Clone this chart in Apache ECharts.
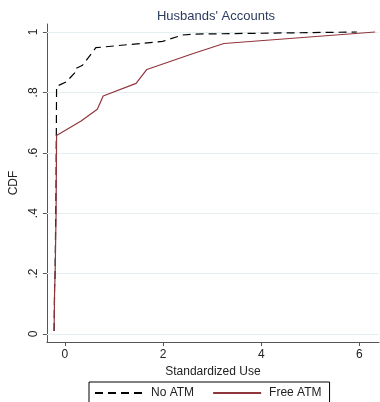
<!DOCTYPE html>
<html>
<head>
<meta charset="utf-8">
<script src="https://cdn.jsdelivr.net/npm/echarts@6/dist/echarts.min.js"></script>
<style>
  html, body { margin: 0; padding: 0; background: #fff; }
  #chart { width: 380px; height: 402px; }
</style>
</head>
<body>
<div id="chart"></div>
<script>
// CDF points
const noAtmX = [-0.22, -0.21, -0.2, -0.18, -0.17, 0.03, 0.23, 0.23, 0.36, 0.63, 1.99, 2.4, 2.6, 5.95]
const noAtmY = [0.01, 0.16, 0.2, 0.5, 0.82, 0.835, 0.87, 0.88, 0.89, 0.948, 0.969, 0.99, 0.993, 1.0]
const freeAtmX = [-0.22, -0.21, -0.2, -0.18, -0.17, 0.33, 0.66, 0.78, 1.45, 1.67, 2.6, 3.24, 6.32]
const freeAtmY = [0.01, 0.15, 0.19, 0.4, 0.657, 0.705, 0.744, 0.788, 0.83, 0.876, 0.928, 0.962, 1.0]
const xTicks = [0, 2, 4, 6]
const yTicks = [0, 0.2, 0.4, 0.6, 0.8, 1]

const pairs = (xs, ys) => xs.map((x, i) => [x, ys[i]])
const font = 'Liberation Sans, Arial, sans-serif'
const axisGrey = '#555'

const chart = echarts.init(document.getElementById('chart'))
chart.setOption({
  animation: false,
  title: {
    text: "Husbands' Accounts",
    left: 211, top: 5, textAlign: 'center',
    textStyle: { fontFamily: font, fontSize: 13, fontWeight: 'normal', color: '#2b3a5e' }
  },
  grid: { left: 42, right: 1, top: 24, bottom: 60 },
  xAxis: {
    type: 'value',
    min: -0.367, max: 6.40,
    name: 'Standardized Use',
    nameLocation: 'middle',
    nameGap: 20,
    nameTextStyle: { fontFamily: font, fontSize: 12, color: '#222' },
    axisLine: { onZero: false, lineStyle: { color: axisGrey, width: 1 } },
    axisTick: { length: 4, customValues: xTicks, lineStyle: { color: axisGrey } },
    axisLabel: { customValues: xTicks, margin: 7, fontFamily: font, fontSize: 12, color: '#222' },
    splitLine: { show: false }
  },
  yAxis: {
    type: 'value',
    min: -0.0265, max: 1.0265,
    name: 'CDF',
    nameLocation: 'middle',
    nameGap: 24,
    nameTextStyle: { fontFamily: font, fontSize: 12, color: '#222' },
    axisLine: { show: true, onZero: false, lineStyle: { color: axisGrey, width: 1 } },
    axisTick: { show: true, length: 4, customValues: yTicks, lineStyle: { color: axisGrey } },
    axisLabel: {
      customValues: yTicks, rotate: 90, margin: 7,
      fontFamily: font, fontSize: 12, color: '#222',
      formatter: v => (v === 0 ? '0' : v === 1 ? '1' : String(v).replace('0.', '.'))
    },
    splitLine: { show: false }
  },
  legend: {
    left: 89, top: 382,
    width: 236,
    padding: [5, 8, 5, 5],
    itemWidth: 48, itemHeight: 12, itemGap: 18,
    borderColor: '#000', borderWidth: 1,
    itemStyle: { opacity: 0 },
    textStyle: { fontFamily: font, fontSize: 12, color: '#222', padding: [0, 0, 0, 3] },
    data: ['No ATM', 'Free ATM']
  },
  series: [
    {
      name: 'No ATM', type: 'line', symbol: 'none',
      data: pairs(noAtmX, noAtmY),
      lineStyle: { color: '#000', width: 1.2, type: [8, 5] },
      itemStyle: { color: '#000' },
      // light horizontal grid lines at the y ticks
      markLine: {
        silent: true, symbol: 'none', z: 1,
        label: { show: false },
        lineStyle: { color: '#e6eef1', width: 1, type: 'solid' },
        data: yTicks.map(v => ({ yAxis: v }))
      }
    },
    {
      name: 'Free ATM', type: 'line', symbol: 'none',
      data: pairs(freeAtmX, freeAtmY),
      lineStyle: { color: '#90353b', width: 1.2 },
      itemStyle: { color: '#90353b' }
    }
  ]
})
</script>
</body>
</html>
